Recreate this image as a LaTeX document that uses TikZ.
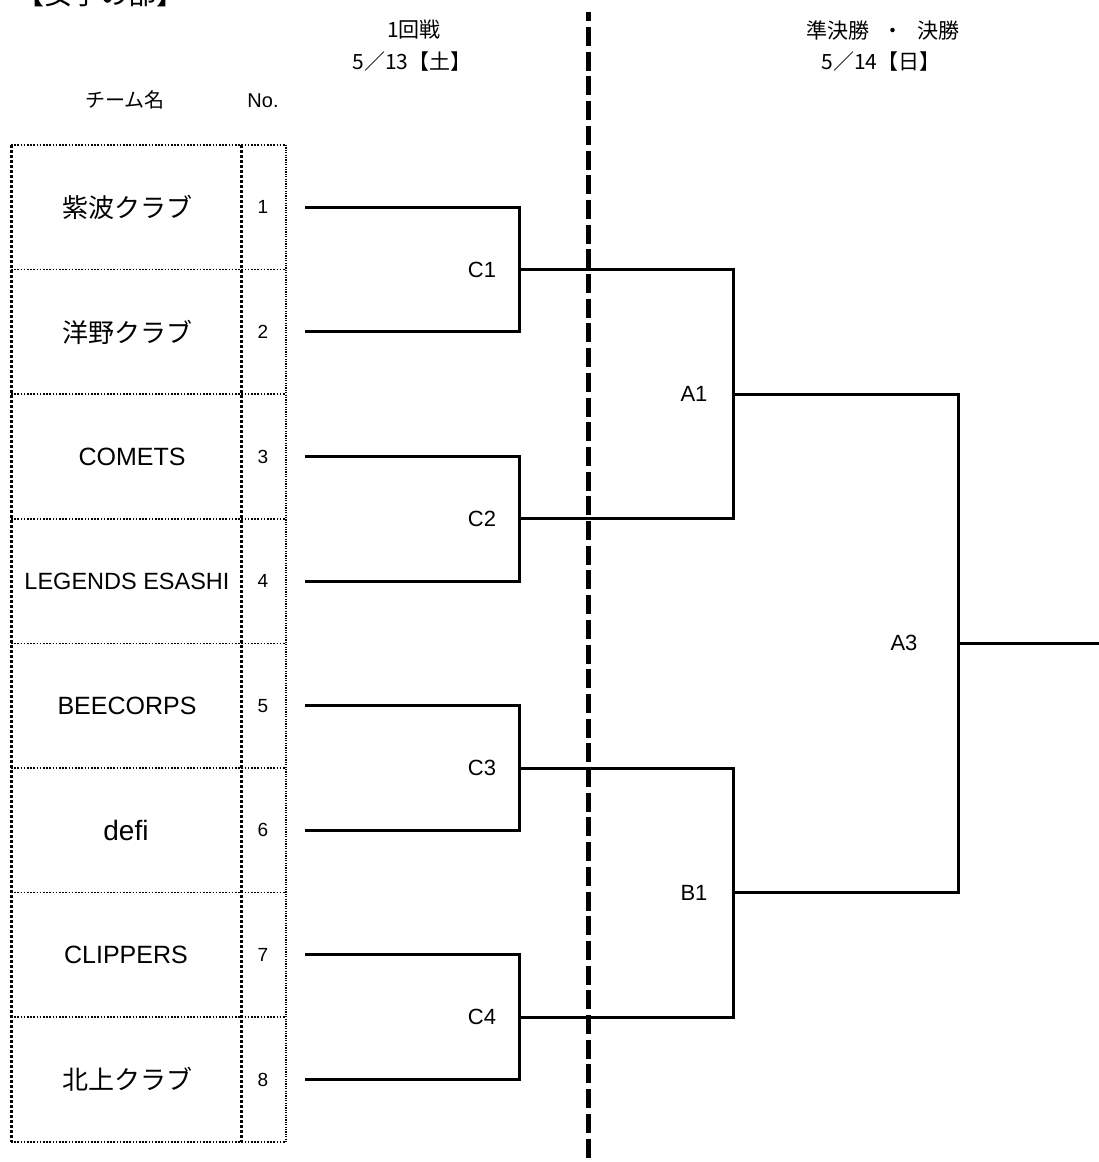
\documentclass[tikz,border=0pt]{standalone}
\usepackage{fontspec}
\setmainfont{Liberation Sans}
\newfontfamily\jp{Noto Sans CJK JP}
\begin{document}
\begin{tikzpicture}[x=1pt,y=-1pt,
  jteam/.style={font=\jp\fontsize{26}{30}\selectfont, inner sep=0pt},
  eteam/.style={font=\fontsize{25}{29}\selectfont, inner sep=0pt},
  num/.style={font=\fontsize{19}{22}\selectfont, inner sep=0pt},
  lbl/.style={font=\fontsize{22}{25}\selectfont, inner sep=0pt},
  hdr/.style={font=\jp\fontsize{21}{24}\selectfont, inner sep=0pt},
  br/.style={line width=3pt},
  tblh/.style={line width=1.6pt, dash pattern=on 1.6pt off 1.6pt},
  tblv/.style={line width=3pt, dash pattern=on 3pt off 2pt},
  tblr/.style={line width=1.2pt, dash pattern=on 1.2pt off 1.2pt},
  sep/.style={line width=5pt, dash pattern=on 19pt off 5.7pt, dash phase=9.7pt}]
\useasboundingbox (0,0) rectangle (1098,1162);
\fill[white] (0,0) rectangle (1098,1162);

% title (cut at top, as in the reference)
\node[anchor=base west, font=\jp\fontsize{28}{30}\selectfont, inner sep=0pt] (title) at (16,4) {【女子の部】};

% headers
\node[hdr] (h1) at (414,30) {1回戦};
\node[hdr] (h1d) at (412,62) {5／13【土】};
\node[hdr] (h2) at (883,30) {準決勝\hspace{0.65em}・\hspace{0.65em}決勝};
\node[hdr] (h2d) at (881,62) {5／14【日】};
\node[font=\jp\fontsize{20}{23}\selectfont, inner sep=0pt] (hteam) at (125,100) {チーム名};
\node[font=\fontsize{20}{23}\selectfont, inner sep=0pt] (hno) at (263,101) {No.};

% table
\foreach \k in {0,...,8}{
  \draw[tblh] (11,{145+124.6*\k}) -- (286,{145+124.6*\k});
}
\draw[tblv] (11,145) -- (11,1142);
\draw[tblv] (241,145) -- (241,1142);
\draw[tblr] (286,145) -- (286,1142);

% team names and numbers
\node[jteam] (t1) at (127,{145+124.6*0.5}) {紫波クラブ};
\node[jteam] (t2) at (127,{145+124.6*1.5}) {洋野クラブ};
\node[eteam] (t3) at (132,{145+124.6*2.5}) {COMETS};
\node[eteam, font=\fontsize{23.5}{27}\selectfont] (t4) at (127,{145+124.6*3.5}) {LEGENDS ESASHI};
\node[eteam] (t5) at (127,{145+124.6*4.5}) {BEECORPS};
\node[eteam, font=\fontsize{28}{32}\selectfont] (t6) at (126,{145+124.6*5.5}) {defi};
\node[eteam] (t7) at (126,{145+124.6*6.5}) {CLIPPERS};
\node[jteam] (t8) at (127,{145+124.6*7.5}) {北上クラブ};
\foreach \k in {1,...,8}{
  \node[num] (n\k) at (263,{145+124.6*(\k-0.5)}) {\k};
  \coordinate (p\k) at (305,{145+124.6*(\k-0.5)});
}

% junctions
\coordinate (c1) at (519,{145+124.6*1});
\coordinate (c2) at (519,{145+124.6*3});
\coordinate (c3) at (519,{145+124.6*5});
\coordinate (c4) at (519,{145+124.6*7});
\coordinate (a1) at (733,{145+124.6*2});
\coordinate (b1) at (733,{145+124.6*6});
\coordinate (a3) at (958,{145+124.6*4});
\coordinate (fin) at (1102,{145+124.6*4});

\draw[br] (p1) -| (c1) |- (p2);
\draw[br] (p3) -| (c2) |- (p4);
\draw[br] (p5) -| (c3) |- (p6);
\draw[br] (p7) -| (c4) |- (p8);
\draw[br] (c1) -| (a1) |- (c2);
\draw[br] (c3) -| (b1) |- (c4);
\draw[br] (a1) -| (a3) |- (b1);
\draw[br] (a3) -- (fin);

% match labels
\node[lbl] (lc1) at (482,{145+124.6*1}) {C1};
\node[lbl] (lc2) at (482,{145+124.6*3}) {C2};
\node[lbl] (lc3) at (482,{145+124.6*5}) {C3};
\node[lbl] (lc4) at (482,{145+124.6*7}) {C4};
\node[lbl] (la1) at (694,{145+124.6*2}) {A1};
\node[lbl] (lb1) at (694,{145+124.6*6}) {B1};
\node[lbl] (la3) at (904,{145+124.6*4}) {A3};

% separator
\coordinate (s1) at (588.5,12);
\coordinate (s2) at (588.5,1170);
\draw[sep] (s1) -- (s2);
\end{tikzpicture}
\end{document}
